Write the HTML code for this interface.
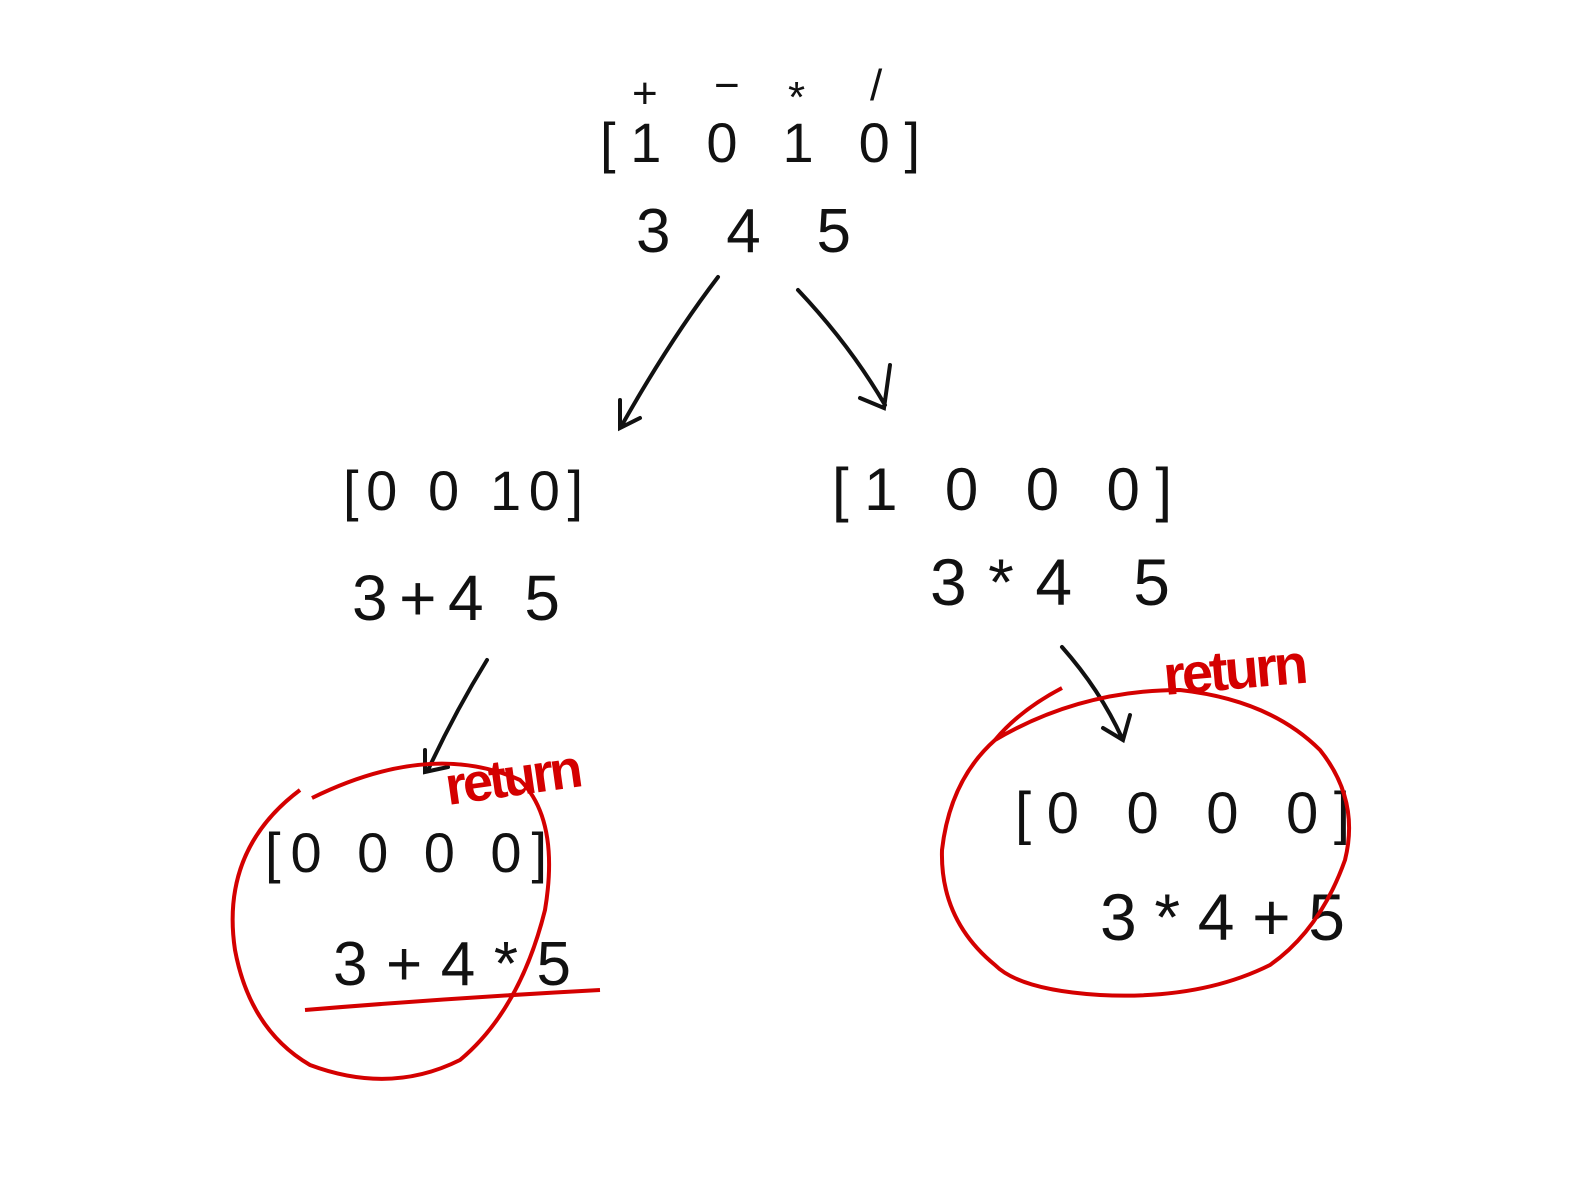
<!DOCTYPE html>
<html><head><meta charset="utf-8"><style>
html,body{margin:0;padding:0;background:#fff;}
svg{display:block;}
text{font-family:"Liberation Sans",sans-serif;fill:#111;}
.r{fill:#d40000;font-weight:bold;}
</style></head><body>
<svg width="1569" height="1180" viewBox="0 0 1569 1180">
<g font-size="56">
  <text x="632" y="108" font-size="44">+</text>
  <text x="714" y="100" font-size="44">−</text>
  <text x="788" y="112" font-size="44">*</text>
  <text x="870" y="100" font-size="44">/</text>
  <text x="600" y="162" textLength="320">[1 0 1 0]</text>
  <text x="636" y="252" font-size="62" textLength="215">3 4 5</text>
</g>
<g fill="none" stroke="#111" stroke-width="4" stroke-linecap="round">
  <path d="M718,277 Q670,340 622,425 M620,400 L620,428 L640,418"/>
  <path d="M798,290 Q850,345 885,405 M890,365 L884,408 L860,398"/>
  <path d="M487,660 Q455,712 428,770 M425,750 L425,772 L448,767"/>
  <path d="M1062,647 Q1100,690 1122,738 M1130,715 L1123,740 L1103,728"/>
</g>
<g font-size="56">
  <text x="343" y="510" textLength="240">[0 0 10]</text>
  <text x="352" y="620" font-size="64" textLength="208">3+4 5</text>
</g>
<g font-size="60">
  <text x="832" y="510" textLength="340">[1 0 0 0]</text>
  <text x="930" y="605" font-size="66" textLength="240">3*4 5</text>
</g>
<g font-size="56">
  <text x="265" y="872" textLength="282">[0 0 0 0]</text>
  <text x="333" y="985" font-size="62" textLength="238">3+4*5</text>
  <path d="M305,1010 Q450,998 600,990" fill="none" stroke="#d40000" stroke-width="4"/>
  <path d="M312,798 Q430,740 520,780 Q560,820 545,910 Q520,1010 460,1060 Q390,1095 310,1065 Q250,1030 235,950 Q220,850 300,790" fill="none" stroke="#d40000" stroke-width="4"/>
  <text x="448" y="805" class="r" font-size="54" textLength="138" transform="rotate(-8 448 805)">return</text>
</g>
<g font-size="58">
  <text x="1015" y="833" textLength="335">[0 0 0 0]</text>
  <text x="1100" y="940" font-size="66" textLength="245">3*4+5</text>
  <path d="M1062,688 Q1020,710 995,740 Q1080,690 1180,690 Q1270,700 1320,750 Q1360,800 1345,860 Q1320,930 1270,965 Q1200,1000 1100,995 Q1020,990 995,965 Q940,920 942,850 Q950,780 995,740" fill="none" stroke="#d40000" stroke-width="4"/>
  <text x="1165" y="695" class="r" font-size="56" textLength="145" transform="rotate(-5 1165 695)">return</text>
</g>
</svg>
</body></html>
